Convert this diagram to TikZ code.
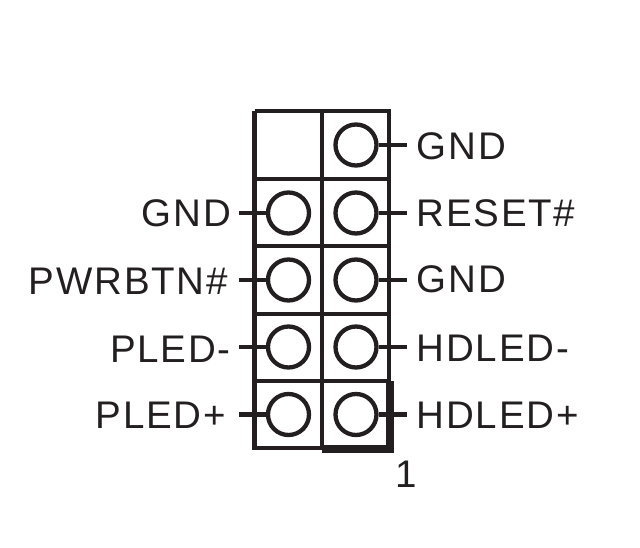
\documentclass[tikz,border=0pt]{standalone}
\usepackage{fontspec}
\setmainfont[LetterSpace=4.5]{Liberation Sans}
\definecolor{ink}{RGB}{35,31,32}
\tikzset{every picture/.style={line width=0.75pt}}
\tikzset{
	pin/.style={draw=ink,circle,line width=4.3,minimum size=41,inner sep=0pt},
	stub/.style={draw=ink,line width=4.3},
	cell/.style={draw=ink,line width=4.5},
	lbl/.style={inner sep=0pt,text=ink,font=\fontsize{38.5}{38.5}\selectfont}
}

\begin{document}
\begin{tikzpicture}[x=1pt,y=1pt,yscale=-1,xscale=1]
	\useasboundingbox (0,0) rectangle (640,548);
	
	%Shape: Rectangle
	\draw [cell] (254.7,111) -- (389,111) -- (389,381) ;
	\draw [cell] (254.7,111) -- (254.7,448) -- (322,448) ;
	%Straight Lines
	\draw [cell] (322,111) -- (322,448) ;
	\draw [cell] (254.7,179) -- (389,179) ;
	\draw [cell] (254.7,246) -- (389,246) ;
	\draw [cell] (254.7,314) -- (389,314) ;
	\draw [cell] (254.7,381) -- (389,381) ;
	%Thick corner
	\draw [draw=ink,line width=8.5] (322,449) -- (390,449) -- (390,381) ;
	
	%Shape: Circle
	\node [pin] (pinr1) at (356,145) {};
	\node [pin] (pinl2) at (288.5,213) {};
	\node [pin] (pinr2) at (356,213) {};
	\node [pin] (pinl3) at (288.5,280) {};
	\node [pin] (pinr3) at (356,280) {};
	\node [pin] (pinl4) at (288.5,347) {};
	\node [pin] (pinr4) at (356,347) {};
	\node [pin] (pinl5) at (288.5,414.5) {};
	\node [pin] (pinr5) at (356,414.5) {};
	
	\coordinate (endr1) at (407,145);
	\coordinate (endl2) at (239,213);
	\coordinate (endr2) at (407,213);
	\coordinate (endl3) at (239,280);
	\coordinate (endr3) at (407,280);
	\coordinate (endl4) at (239,347);
	\coordinate (endr4) at (407,347);
	\coordinate (endl5) at (239,414.5);
	\coordinate (endr5) at (407,414.5);
	
	%Straight Lines
	\draw [stub] (pinr1) -- (endr1) ;
	\draw [stub] (pinl2) -- (endl2) ;
	\draw [stub] (pinr2) -- (endr2) ;
	\draw [stub] (pinl3) -- (endl3) ;
	\draw [stub] (pinr3) -- (endr3) ;
	\draw [stub] (pinl4) -- (endl4) ;
	\draw [stub] (pinr4) -- (endr4) ;
	\draw [stub] (pinl5) -- (endl5) ;
	\draw [stub] (pinr5) -- (endr5) ;
	
	% Text Node
	\node [lbl,anchor=base west] (txtr1) at (416.5,159.5) {GND};
	% Text Node
	\node [lbl,anchor=base east] (txtl2) at (231.2,226.5) {GND};
	% Text Node
	\node [lbl,anchor=base west] (txtr2) at (416.5,226.5) {RESET\#};
	% Text Node
	\node [lbl,anchor=base east] (txtl3) at (228,294.5) {PWRBTN\#};
	% Text Node
	\node [lbl,anchor=base west] (txtr3) at (416.5,292.7) {GND};
	% Text Node
	\node [lbl,anchor=base east] (txtl4) at (231,362) {PLED-};
	% Text Node
	\node [lbl,anchor=base west] (txtr4) at (416.5,361) {HDLED-};
	% Text Node
	\node [lbl,anchor=base east] (txtl5) at (226.3,428) {PLED+};
	% Text Node
	\node [lbl,anchor=base west] (txtr5) at (416.5,428) {HDLED+};
	% Text Node
	\node [lbl,anchor=base] (txtone) at (406,487) {1};
	
\end{tikzpicture}
\end{document}
